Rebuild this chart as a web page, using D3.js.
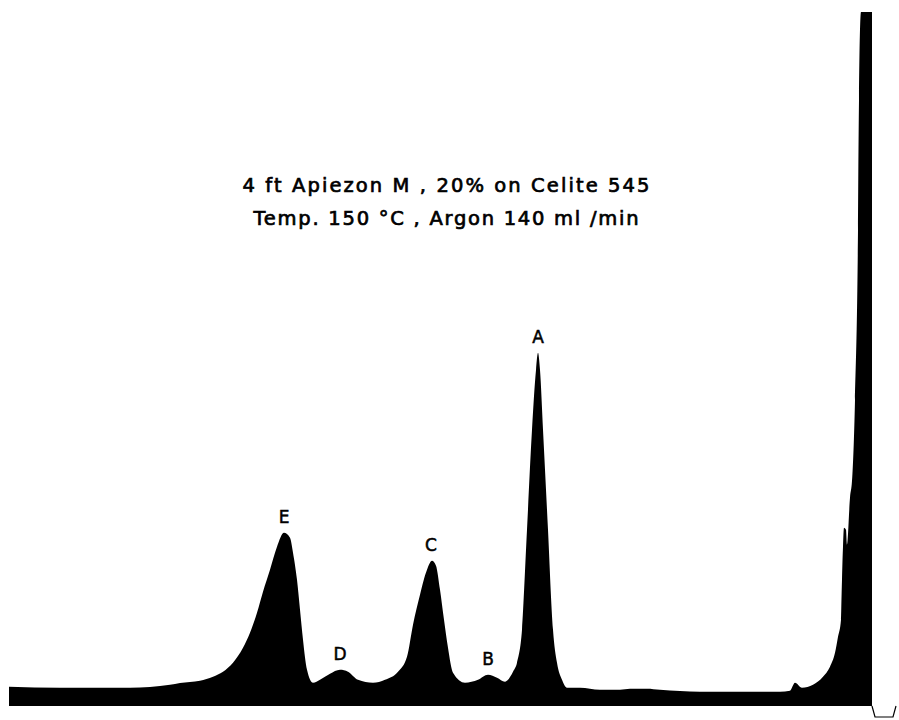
<!DOCTYPE html>
<html>
<head>
<meta charset="utf-8">
<script src="https://cdn.jsdelivr.net/npm/d3@7"></script>
<style>
  html, body { margin: 0; padding: 0; background: #fff; }
  svg { display: block; }
  text { font-family: "DejaVu Sans", "Liberation Sans", sans-serif; fill: #000; stroke: #000; }
</style>
</head>
<body>
<svg id="chart" width="899" height="720"></svg>
<script>
// Chromatogram trace: retention (arbitrary chart units) and detector response (% of full scale)
const retention = [0, 5.1, 12.1, 16.1, 17.1, 19.1, 20.4, 21.4, 22.4, 23.4, 24.1, 24.8, 25.4, 26.1, 26.8, 27.5, 28.1, 28.4, 28.8, 29.1, 29.4, 29.8,
  30.4, 31.1, 32.1, 33.1, 33.9, 34.9, 36.4, 37.6, 38.9, 39.8, 40.4, 41.1, 41.8, 42.3, 42.7, 43.1, 43.5, 43.9, 44.4,
  45.6, 46.9, 47.9, 48.8, 49.6, 49.9, 50.4, 50.8, 51.3, 51.8, 52.3, 52.7, 52.9, 53.1, 53.4, 53.9, 54.4, 54.8, 55.3, 55.8,
  57.1, 59.1, 61.1, 62.1, 63.8, 65.1, 69.1, 77.1, 78.1, 78.6, 79.3, 80.4, 81.4, 82.1, 82.6, 82.9, 83.2, 83.3, 83.4,
  83.5, 83.7, 83.8, 84.1, 84.3, 84.6, 84.9, 85.0, 85.2, 86.3];
const response = [0.15, 0, 0, 0.44, 0.7, 1.04, 1.63, 2.37, 3.70, 5.92, 8.14, 11.09, 14.20, 17.46, 20.86, 22.93, 22.19, 19.97, 15.98, 11.54, 7.10, 2.66,
  0.74, 1.18, 2.07, 2.66, 2.37, 1.18, 0.74, 1.18, 2.37, 4.59, 9.32, 13.76, 17.46, 18.79, 18.05, 14.50, 10.06, 5.92, 2.22,
  0.74, 1.18, 1.92, 1.48, 0.89, 1.18, 2.37, 3.70, 8.58, 23.37, 38.17, 47.04, 49.56, 47.04, 38.17, 23.37, 8.58, 3.70, 1.18, 0,
  0, -0.30, -0.30, -0.15, -0.15, -0.30, -0.59, -0.59, -0.44, 0.74, 0, 0.44, 1.63, 3.11, 5.18, 7.54, 10.06, 15.98, 20.86,
  23.67, 23.37, 21.15, 28.11, 30.62, 42.60, 67.75, 86.98, 100, 100];

// Peak labels
const peakNames = ["E", "D", "C", "B", "A"];
const peakRetention = [27.5, 33.1, 42.2, 47.9, 52.9];
const peakResponse = [22.93, 2.66, 18.79, 1.92, 49.56];

// Caption
const captionLines = ["4 ft  Apiezon M , 20% on Celite 545", "Temp. 150 °C , Argon  140 ml /min"];

const svg = d3.select("#chart");
const x = d3.scaleLinear().domain([0, 86.3]).range([9, 872]);
const y = d3.scaleLinear().domain([-2.7, 100]).range([706, 12]);

const data = retention.map((t, i) => ({ t, r: response[i] }));

const area = d3.area()
  .x(d => x(d.t))
  .y0(y.range()[0])
  .y1(d => y(d.r))
  .curve(d3.curveMonotoneX);

svg.append("path")
  .datum(data)
  .attr("d", area)
  .attr("fill", "#000");

// pen return tick at end of trace
const xe = x(retention[retention.length - 1]);
const yb = y.range()[0];
svg.append("path")
  .attr("d", `M${xe},${yb} L${xe + 3},${yb + 11} L${xe + 21},${yb + 11} L${xe + 24},${yb}`)
  .attr("fill", "none").attr("stroke", "#000").attr("stroke-width", 1.2);

// Peak labels
svg.selectAll("text.peak")
  .data(peakNames)
  .join("text")
  .attr("class", "peak")
  .attr("x", (d, i) => x(peakRetention[i]))
  .attr("y", (d, i) => y(peakResponse[i]) - 10)
  .attr("text-anchor", "middle")
  .attr("font-size", 17)
  .attr("stroke-width", 0.5)
  .text(d => d);

// Caption
const capX = 446;
const capY = [192, 225];
const capW = [407, 385];
svg.selectAll("text.cap")
  .data(captionLines)
  .join("text")
  .attr("class", "cap")
  .attr("x", (d, i) => capX - capW[i] / 2)
  .attr("y", (d, i) => capY[i])
  .attr("font-size", 19.5)
  .attr("stroke-width", 0.7)
  .attr("textLength", (d, i) => capW[i])
  .attr("lengthAdjust", "spacing")
  .text(d => d);
</script>
</body>
</html>
